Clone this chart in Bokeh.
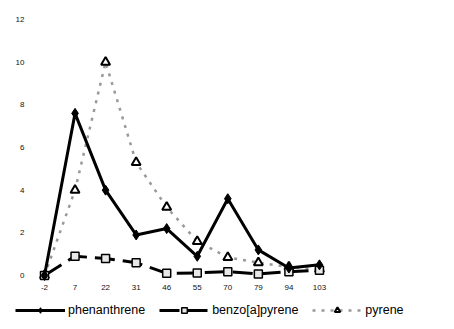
from bokeh.plotting import figure
from bokeh.models import Range1d, FixedTicker, Legend, LegendItem
from bokeh.embed import file_html
from bokeh.resources import INLINE

categories = ["-2", "7", "22", "31", "46", "55", "70", "79", "94", "103"]
phenanthrene = [0.0, 7.6, 4.0, 1.9, 2.2, 0.9, 3.6, 1.2, 0.35, 0.5]
benzo_a_pyrene = [0.0, 0.9, 0.8, 0.6, 0.1, 0.12, 0.18, 0.07, 0.18, 0.25]
pyrene = [0.0, 4.0, 10.0, 5.3, 3.2, 1.6, 0.85, 0.6, 0.4, 0.3]
y_ticks = [0, 2, 4, 6, 8, 10, 12]

xs = list(range(len(categories)))

p = figure(frame_width=442, frame_height=315, output_backend="svg", toolbar_location=None,
           x_range=Range1d(-1.047, 13.42), y_range=Range1d(-1.969, 12.797),
           min_border_left=12, min_border_right=0, min_border_top=2, min_border_bottom=0)
p.outline_line_color = None
p.grid.visible = False
p.background_fill_color = "white"

font = "Liberation Sans"
for ax in (p.xaxis[0], p.yaxis[0]):
    ax.axis_line_color = None
    ax.major_tick_line_color = None
    ax.minor_tick_line_color = None
    ax.major_tick_out = 0
    ax.major_tick_in = 0
    ax.major_label_text_font = font
    ax.major_label_text_font_size = "8px"
    ax.major_label_text_color = "#111111"
    ax.major_label_standoff = 2

p.yaxis[0].ticker = FixedTicker(ticks=y_ticks)
p.yaxis[0].fixed_location = -0.589
p.xaxis[0].ticker = FixedTicker(ticks=xs)
p.xaxis[0].major_label_overrides = {i: c for i, c in enumerate(categories)}
p.xaxis[0].fixed_location = -0.352

# pyrene
pl = p.line(xs, pyrene, line_color="#999999", line_width=2.5, line_dash="3 6")
ps = p.scatter(xs, pyrene, marker="triangle", size=9, fill_color="white",
               line_color="black", line_width=2)
# benzo[a]pyrene
bl = p.line(xs, benzo_a_pyrene, line_color="black", line_width=3, line_dash="20 8")
bs = p.scatter(xs, benzo_a_pyrene, marker="square", size=8, fill_color="#e8e8e8",
               line_color="black", line_width=1.5)
# phenanthrene
fl = p.line(xs, phenanthrene, line_color="black", line_width=3)
fs = p.scatter(xs, phenanthrene, marker="diamond", size=10, fill_color="black",
               line_color="black")

legend = Legend(items=[
    LegendItem(label="phenanthrene", renderers=[fl, fs]),
    LegendItem(label="benzo[a]pyrene", renderers=[bl, bs]),
    LegendItem(label="pyrene", renderers=[pl, ps]),
], orientation="horizontal", location=(3, 0))
legend.label_text_font = font
legend.label_text_font_size = "12.5px"
legend.label_text_color = "black"
legend.glyph_width = 50
legend.glyph_height = 14
legend.label_height = 14
legend.label_standoff = 3
legend.spacing = 14
legend.padding = 0
legend.margin = 0
legend.border_line_color = None
legend.background_fill_alpha = 0
p.add_layout(legend)

open("out.html", "w").write(file_html(p, INLINE))
